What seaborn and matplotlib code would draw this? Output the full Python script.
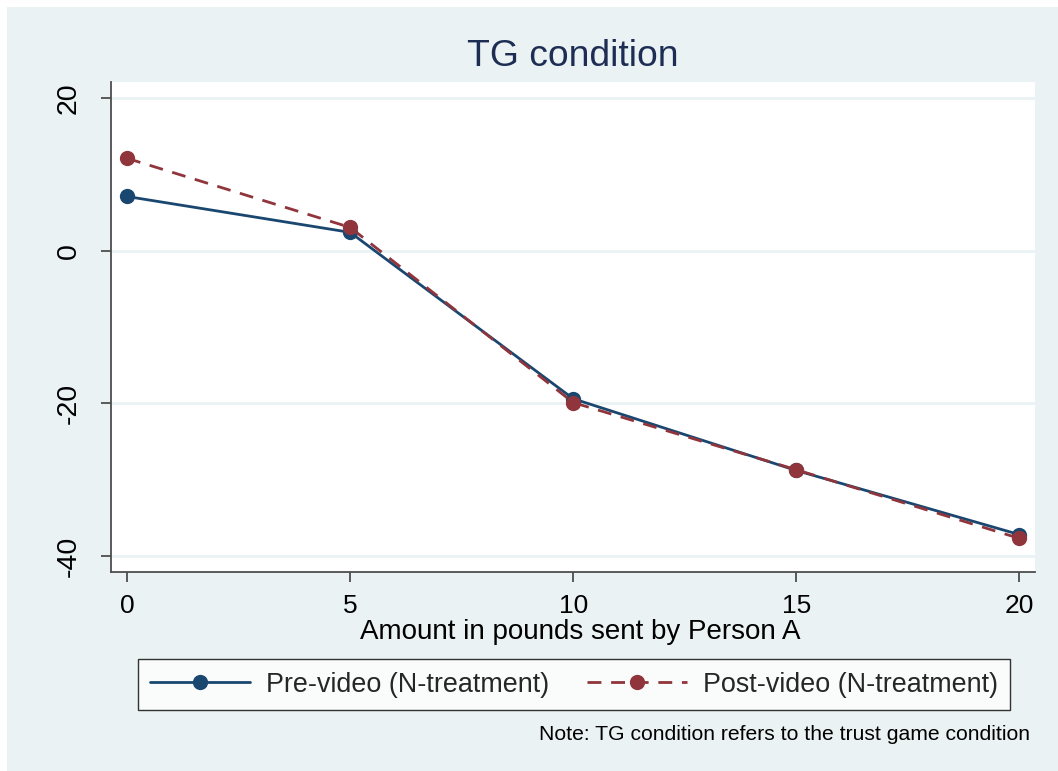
import matplotlib
matplotlib.use("Agg")
import matplotlib.pyplot as plt
import matplotlib.patches as mpatches
import seaborn as sns
import pandas as pd

amounts = [0, 5, 10, 15, 20]
pre_video = [7.1, 2.4, -19.4, -28.8, -37.2]
post_video = [12.1, 3.05, -19.9, -28.7, -37.7]
series_names = ["Pre-video (N-treatment)", "Post-video (N-treatment)"]
x_ticks = [0, 5, 10, 15, 20]
y_ticks = [-40, -20, 0, 20]

df = pd.DataFrame({
    "amount": amounts * 2,
    "value": pre_video + post_video,
    "series": [series_names[0]] * len(amounts) + [series_names[1]] * len(amounts),
})

sns.set_theme(style="white")
plt.rcParams["font.family"] = ["Liberation Sans", "DejaVu Sans"]

BG = "#EAF2F3"
BLUE = "#1A476F"
RED = "#90353B"
SPINE = "#4D4D4D"

fig = plt.figure(figsize=(10.58, 7.71), dpi=100)
fig.patch.set_facecolor("white")
fig.patches.append(mpatches.Rectangle((7 / 1058, 0), 1, 1 - 7 / 771,
                                      transform=fig.transFigure, facecolor=BG,
                                      edgecolor="none", zorder=-10))

ax = fig.add_axes([111 / 1058, 1 - 572 / 771, (1035 - 111) / 1058, (572 - 82) / 771])
ax.set_facecolor("white")

sns.lineplot(data=df, x="amount", y="value", hue="series", style="series",
             palette={series_names[0]: BLUE, series_names[1]: RED},
             dashes={series_names[0]: "", series_names[1]: (5, 3.5)},
             markers={series_names[0]: "o", series_names[1]: "o"},
             markersize=11, markeredgewidth=0, linewidth=2.0, ax=ax, legend=True)

handles, labels = ax.get_legend_handles_labels()
ax.get_legend().remove()

ax.set_xlim(-0.36, 20.35)
ax.set_ylim(-42.1, 22.1)
ax.set_xticks(x_ticks)
ax.set_yticks(y_ticks)
ax.set_xticklabels([str(v) for v in x_ticks], fontsize=19)
ax.set_yticklabels([str(v) for v in y_ticks], fontsize=20.5, rotation=90, va="center")
for y in y_ticks:
    ax.axhline(y, color=BG, lw=2, zorder=0.5)

for s in ["top", "right"]:
    ax.spines[s].set_visible(False)
for s in ["left", "bottom"]:
    ax.spines[s].set_color(SPINE)
    ax.spines[s].set_linewidth(1.3)
ax.tick_params(axis="both", direction="out", length=7, width=1.3, color=SPINE,
               labelcolor="black", left=True, bottom=True)
ax.tick_params(axis="y", pad=14)
ax.tick_params(axis="x", pad=9)

ax.set_xlabel("Amount in pounds sent by Person A", fontsize=20, color="black")
ax.xaxis.set_label_coords((580 - 111) / (1035 - 111), (572 - 632) / (572 - 82))
ax.xaxis.label.set_va("center")
ax.set_ylabel("")
fig.text(573 / 1058, 1 - 56 / 771, "TG condition", fontsize=26.8, color="#1E2D53",
         ha="center", va="center")

leg = fig.legend(handles, labels, loc="center", bbox_to_anchor=(574 / 1058, 1 - 684.5 / 771),
                 ncol=2, fontsize=19.4, frameon=True, fancybox=False, handlelength=3.7,
                 handletextpad=0.6, columnspacing=1.4, borderpad=0.45, edgecolor="black")
leg.get_frame().set_linewidth(1.0)
leg.get_frame().set_facecolor("white")

fig.text(1030 / 1058, 1 - 734 / 771, "Note: TG condition refers to the trust game condition",
         fontsize=15.2, ha="right", va="center", color="black")

fig.savefig("out.png", dpi=100, facecolor=fig.get_facecolor())
